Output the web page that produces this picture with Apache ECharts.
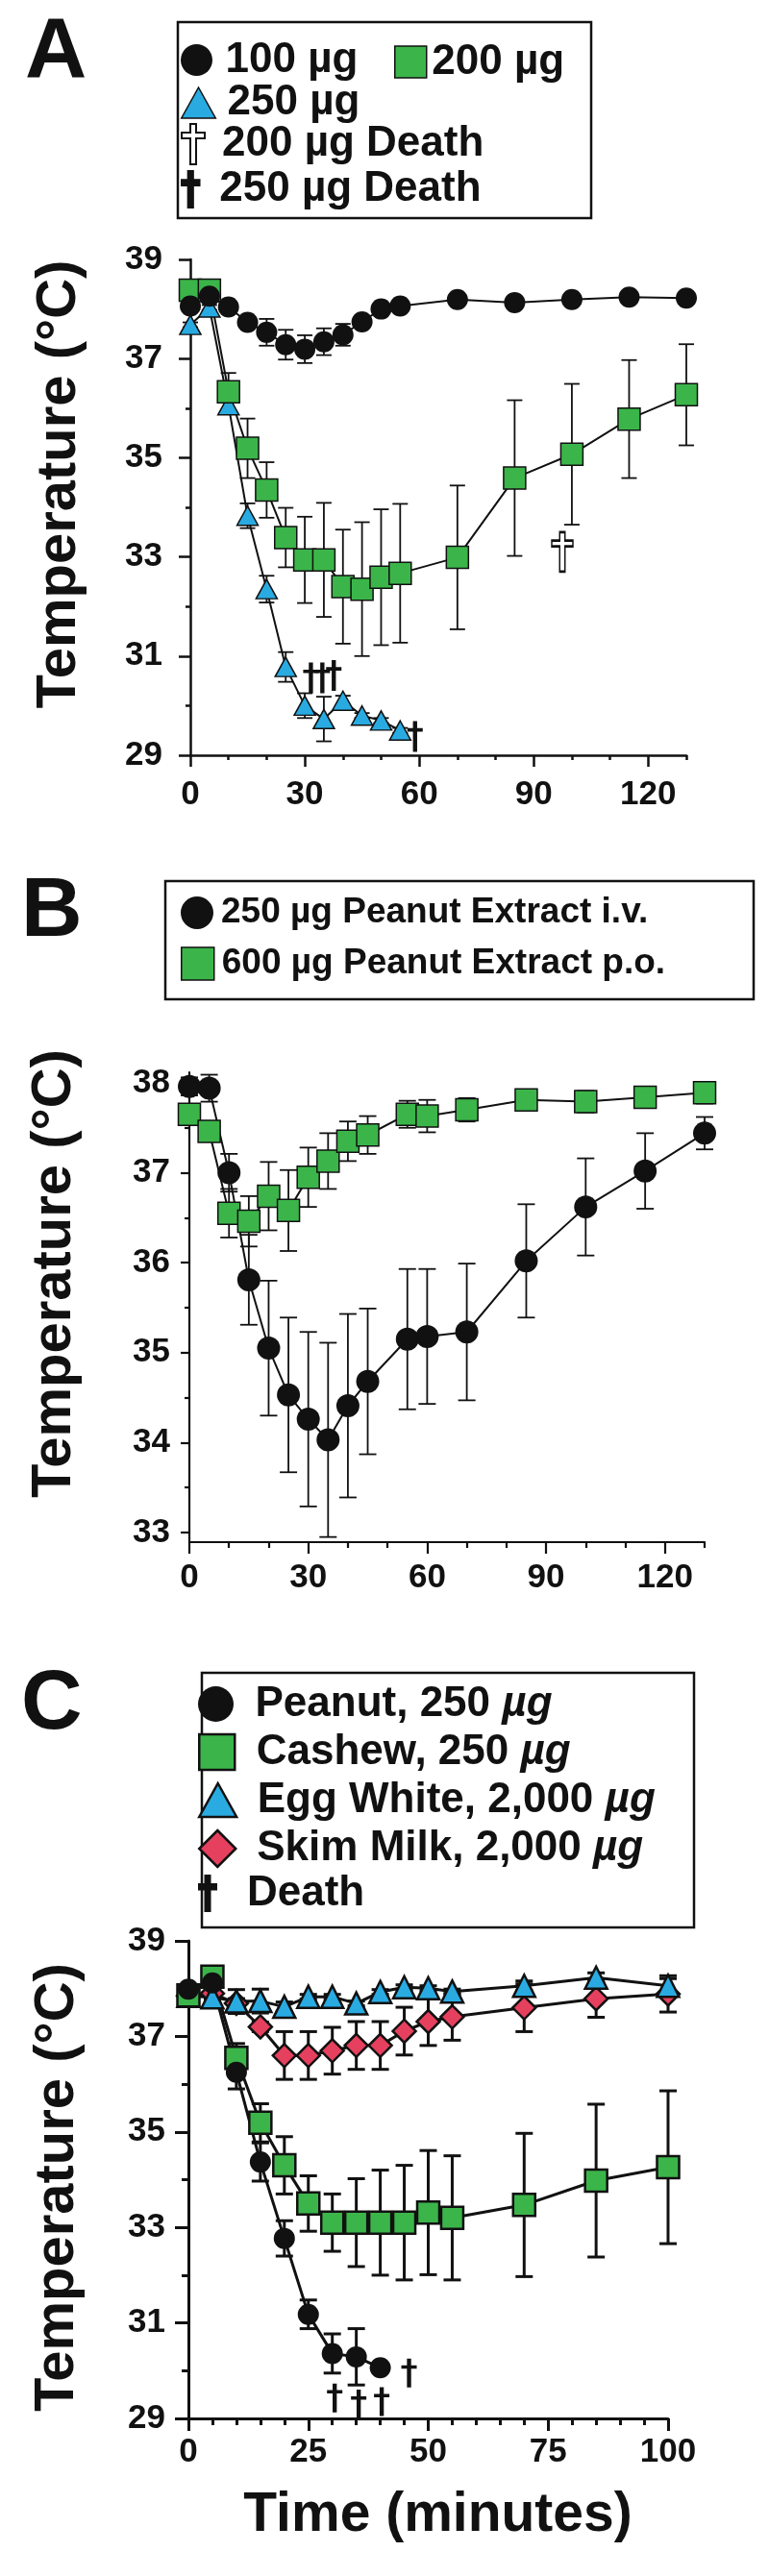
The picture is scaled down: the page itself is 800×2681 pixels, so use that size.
<!DOCTYPE html>
<html><head><meta charset="utf-8">
<script src="https://cdn.jsdelivr.net/npm/echarts@6/dist/echarts.min.js"></script>
<style>html,body{margin:0;padding:0;background:#fff}#c{width:800px;height:2681px}</style>
</head><body><div id="c"></div>
<script>
// ---------- Panel A ----------
const timesA = [0,5,10,15,20,25,30,35,40,45,50,55,70,85,100,115,130];
const a100 = [38.06,38.26,38.04,37.73,37.53,37.28,37.19,37.34,37.48,37.74,38.0,38.06,38.19,38.13,38.19,38.24,38.22];
const a100Err = [0.05,0.05,0.05,0.1,0.27,0.3,0.28,0.27,0.22,0.1,0.05,0.05,0.05,0.05,0.05,0.05,0.05];
const a200 = [38.38,38.38,36.33,35.19,34.35,33.39,32.94,32.94,32.40,32.35,32.59,32.67,32.99,34.59,35.07,35.78,36.27];
const a200Err = [0.05,0.05,0.38,0.6,0.56,0.6,0.87,1.15,1.15,1.35,1.37,1.4,1.45,1.57,1.42,1.19,1.02];
const timesA250 = [0,5,10,15,20,25,30,35,40,45,50,55];
const a250 = [37.68,38.03,36.06,33.83,32.35,30.78,30.0,29.73,30.1,29.8,29.7,29.5];
const a250Err = [0.05,0.05,0.1,0.25,0.27,0.3,0.25,0.45,0.1,0.05,0.05,0.05];
const a200Death = [[97.5,33.1]];
const a250Death = [[31.6,30.56],[34.6,30.56],[37.6,30.61],[58.9,29.38]];
const ticksAx = [0,30,60,90,120];
const minorAx = [10,20,40,50,70,80,100,110,130];

// ---------- Panel B ----------
const timesB = [0,5,10,15,20,25,30,35,40,45,55,60,70,85,100,115,130];
const b250 = [37.96,37.94,37.0,35.81,35.05,34.53,34.26,34.03,34.41,34.68,35.15,35.18,35.23,36.02,36.62,37.02,37.44];
const b250Err = [0.1,0.15,0.21,0.5,0.75,0.86,0.97,1.08,1.02,0.81,0.78,0.75,0.76,0.63,0.54,0.42,0.18];
const b600 = [37.65,37.46,36.55,36.46,36.74,36.58,36.95,37.13,37.35,37.42,37.65,37.63,37.70,37.81,37.79,37.84,37.89];
const b600Err = [0.05,0.1,0.27,0.28,0.38,0.45,0.33,0.31,0.22,0.21,0.15,0.18,0.13,0.08,0.12,0.07,0.12];
const ticksBx = [0,30,60,90,120];
const minorBx = [10,20,40,50,70,80,100,110,130];
const ticksBy = [33,34,35,36,37,38];
const minorBy = [33.5,34.5,35.5,36.5,37.5];

// ---------- Panel C ----------
const timesC = [0,5,10,15,20,25,30,35,40,45,50,55,70,85,100];
const timesCPeanut = [0,5,10,15,20,25,30,35,40];
const cPeanut = [37.99,38.12,36.25,34.37,32.77,31.18,30.36,30.29,30.06];
const cPeanutErr = [0.05,0.05,0.35,0.4,0.37,0.3,0.41,0.59,0];
const cCashew = [37.86,38.25,36.55,35.19,34.30,33.50,33.10,33.10,33.10,33.10,33.31,33.20,33.47,33.98,34.26];
const cCashewErr = [0.05,0.05,0.3,0.4,0.6,0.58,0.6,0.92,1.1,1.2,1.3,1.3,1.5,1.6,1.6];
const cEgg = [37.85,37.82,37.73,37.74,37.62,37.83,37.83,37.69,37.93,38.03,38.01,37.94,38.06,38.23,38.06];
const cEggErr = [0,0.05,0.25,0.25,0.1,0.05,0.05,0.05,0.05,0.05,0.05,0.05,0.1,0.1,0.15];
const cMilk = [37.85,37.9,37.69,37.2,36.6,36.6,36.7,36.81,36.81,37.11,37.31,37.41,37.6,37.79,37.89];
const cMilkErr = [0,0,0.1,0.1,0.5,0.5,0.49,0.5,0.5,0.5,0.5,0.49,0.5,0.39,0.38];
const cDeath = [[46,29.95],[30.5,29.43],[35.5,29.3],[40.3,29.35]];

// ---------- styling ----------
const FONT = '"Liberation Sans", Arial, Helvetica, sans-serif';
const K = '#111', G = '#3BB54A', BL = '#29ABE2', RD = '#E5405E';
const SQ = 'path://M0,0H10V10H0Z';
const TRI = 'path://M5,0L10,9L0,9Z';
const DIA = 'path://M5,0L10,5L5,10L0,5Z';
const DAG = 'path://M4,0H7V6H11V9H7V26H4V9H0V6H4Z';
const DAG_BIG = 'path://M6.5,0H13.5V9H20V16.5H13.5V39H6.5V16.5H0V9H6.5Z';
const DAG_OPEN = 'path://M6,0H10V6H16V10H10V28H6V10H0V6H6Z';

function pairs(t, v) { return t.map((x, i) => [x, v[i]]); }

function errSeries(times, means, errs, xi, yi, lw, half) {
  return {
    type: 'custom', xAxisIndex: xi, yAxisIndex: yi, silent: true, z: 2,
    data: times.map((t, i) => [t, means[i], errs[i]]),
    encode: { x: 0, y: 1 },
    renderItem: function (params, api) {
      const x = api.value(0), m = api.value(1), e = api.value(2);
      if (!e) return null;
      const tp = api.coord([x, m + e]), bt = api.coord([x, m - e]);
      const st = { stroke: K, lineWidth: lw, fill: null };
      return { type: 'group', children: [
        { type: 'line', shape: { x1: tp[0], y1: tp[1], x2: bt[0], y2: bt[1] }, style: st },
        { type: 'line', shape: { x1: tp[0] - half, y1: tp[1], x2: tp[0] + half, y2: tp[1] }, style: st },
        { type: 'line', shape: { x1: bt[0] - half, y1: bt[1], x2: bt[0] + half, y2: bt[1] }, style: st }
      ]};
    }
  };
}
function lineSeries(name, times, vals, xi, yi, symbol, size, color, bw, lw) {
  return {
    type: 'line', name: name, xAxisIndex: xi, yAxisIndex: yi, data: pairs(times, vals),
    symbol: symbol, symbolSize: size, showAllSymbol: true, silent: true, z: 3,
    itemStyle: { color: color, borderColor: K, borderWidth: bw, opacity: 1 },
    lineStyle: { color: K, width: lw }
  };
}
function daggerSeries(name, pts, xi, yi, sym, size, fill, bw) {
  return {
    type: 'scatter', name: name, xAxisIndex: xi, yAxisIndex: yi, data: pts,
    symbol: sym, symbolSize: size, silent: true, z: 4,
    itemStyle: { color: fill, borderColor: K, borderWidth: bw, opacity: 1 }
  };
}
function legendRow(name, icon, itemStyle, left, centerY, iw, ih, fs, italicUnit) {
  const ts = { fontSize: fs, fontWeight: 'bold', color: K, fontFamily: FONT };
  const lg = {
    data: [{ name: name, icon: icon, itemStyle: itemStyle }],
    left: left, top: centerY - ih / 2, itemWidth: iw, itemHeight: ih, padding: 0,
    selectedMode: false, textStyle: ts
  };
  if (italicUnit) {
    lg.formatter = function (n) { return n.indexOf('µg') >= 0 ? n.replace('µg', '{i|µg}') : n; };
    ts.rich = { i: { fontSize: fs, fontWeight: 'bold', fontStyle: 'italic', color: K, fontFamily: FONT } };
  }
  return lg;
}

const tickLbl = { fontSize: 35, fontWeight: 'bold', color: K, fontFamily: FONT };
const titleName = { fontSize: 58, fontWeight: 'bold', color: K, fontFamily: FONT };
function ls(w) { return { color: K, width: w }; }
const blackIcon = { color: K, borderWidth: 0 };

const option = {
  animation: false,
  backgroundColor: '#fff',
  textStyle: { fontFamily: FONT },
  title: [
    { text: 'A', left: 26, top: 12, padding: 0, textStyle: { fontSize: 89, fontWeight: 'bold', color: K, fontFamily: FONT } },
    { text: 'B', left: 22, top: 906, padding: 0, textStyle: { fontSize: 88, fontWeight: 'bold', color: K, fontFamily: FONT } },
    { text: 'C', left: 22, top: 1731, padding: 0, textStyle: { fontSize: 88, fontWeight: 'bold', color: K, fontFamily: FONT } }
  ],
  grid: [
    { left: 198, top: 270, width: 516, height: 516, containLabel: false, outerBoundsMode: 'none' },
    { left: 197, top: 1116, width: 536, height: 489, containLabel: false, outerBoundsMode: 'none' },
    { left: 196, top: 2020, width: 499, height: 497, containLabel: false, outerBoundsMode: 'none' }
  ],
  xAxis: [
    { gridIndex: 0, type: 'value', min: 0, max: 130, position: 'bottom',
      axisLine: { show: true, onZero: false, lineStyle: ls(2.5) },
      axisTick: { show: true, customValues: ticksAx, length: 12, lineStyle: ls(2.5) },
      axisLabel: Object.assign({ show: true, customValues: ticksAx, margin: 24 }, tickLbl),
      splitLine: { show: false } },
    { gridIndex: 0, type: 'value', min: 0, max: 130, position: 'bottom',
      axisLine: { show: false }, axisTick: { show: true, customValues: minorAx, length: 5, lineStyle: ls(2.5) },
      axisLabel: { show: false }, splitLine: { show: false } },
    { gridIndex: 1, type: 'value', min: 0, max: 130, position: 'bottom',
      axisLine: { show: true, onZero: false, lineStyle: ls(2.2) },
      axisTick: { show: true, customValues: ticksBx, length: 12, lineStyle: ls(2.2) },
      axisLabel: Object.assign({ show: true, customValues: ticksBx, margin: 20 }, tickLbl),
      splitLine: { show: false } },
    { gridIndex: 1, type: 'value', min: 0, max: 130, position: 'bottom',
      axisLine: { show: false }, axisTick: { show: true, customValues: minorBx, length: 6, lineStyle: ls(2.2) },
      axisLabel: { show: false }, splitLine: { show: false } },
    { gridIndex: 2, type: 'value', min: 0, max: 100, interval: 25, position: 'bottom',
      axisLine: { show: true, onZero: false, lineStyle: ls(3) },
      axisTick: { show: true, length: 13, lineStyle: ls(3) },
      minorTick: { show: true, splitNumber: 5, length: 7, lineStyle: ls(3) },
      axisLabel: Object.assign({ show: true, margin: 18 }, tickLbl),
      splitLine: { show: false }, minorSplitLine: { show: false },
      name: 'Time (minutes)', nameLocation: 'middle', nameGap: 73,
      nameTextStyle: { fontSize: 57, fontWeight: 'bold', color: K, fontFamily: FONT, padding: [0, 0, 0, 20] } }
  ],
  yAxis: [
    { gridIndex: 0, type: 'value', min: 29, max: 39, interval: 2, position: 'left',
      axisLine: { show: true, onZero: false, lineStyle: ls(2.5) },
      axisTick: { show: true, length: 12, lineStyle: ls(2.5) },
      minorTick: { show: true, splitNumber: 2, length: 5, lineStyle: ls(2.5) },
      axisLabel: Object.assign({ show: true, margin: 29 }, tickLbl),
      splitLine: { show: false }, minorSplitLine: { show: false },
      name: 'Temperature (°C)', nameLocation: 'middle', nameGap: 107,
      nameTextStyle: Object.assign({ padding: [0, 0, 0, 48] }, titleName) },
    { gridIndex: 1, type: 'value', min: 32.893, max: 38.117, position: 'left',
      axisLine: { show: true, onZero: false, lineStyle: ls(2.2) },
      axisTick: { show: true, customValues: ticksBy, length: 9, lineStyle: ls(2.2) },
      axisLabel: Object.assign({ show: true, customValues: ticksBy, margin: 20 }, tickLbl),
      splitLine: { show: false },
      name: 'Temperature (°C)', nameLocation: 'middle', nameGap: 111,
      nameTextStyle: Object.assign({ padding: [0, 0, 0, 70] }, titleName) },
    { gridIndex: 1, type: 'value', min: 32.893, max: 38.117, position: 'left',
      axisLine: { show: false }, axisTick: { show: true, customValues: minorBy, length: 5, lineStyle: ls(2.2) },
      axisLabel: { show: false }, splitLine: { show: false } },
    { gridIndex: 2, type: 'value', min: 29, max: 39, interval: 2, position: 'left',
      axisLine: { show: true, onZero: false, lineStyle: ls(3) },
      axisTick: { show: true, length: 14, lineStyle: ls(3) },
      minorTick: { show: true, splitNumber: 2, length: 7, lineStyle: ls(3) },
      axisLabel: Object.assign({ show: true, margin: 24 }, tickLbl),
      splitLine: { show: false }, minorSplitLine: { show: false },
      name: 'Temperature (°C)', nameLocation: 'middle', nameGap: 107,
      nameTextStyle: Object.assign({ padding: [0, 16, 0, 0] }, titleName) }
  ],
  legend: [
    legendRow('100 µg', 'circle', blackIcon, 188, 57, 50, 33, 44),
    legendRow('200 µg', SQ, { color: G, borderColor: K, borderWidth: 1.5 }, 410, 59, 34, 33, 44),
    legendRow('250 µg', TRI, { color: BL, borderColor: K, borderWidth: 1.5 }, 188, 101, 50, 32, 44),
    legendRow('200 µg Death', DAG_OPEN, { color: '#fff', borderColor: K, borderWidth: 2 }, 188, 149, 50, 42, 44),
    legendRow('250 µg Death', DAG_BIG, blackIcon, 188, 195, 50, 40, 44),
    legendRow('250 µg Peanut Extract i.v.', 'circle', blackIcon, 188, 948.5, 40, 34, 37),
    legendRow('600 µg Peanut Extract p.o.', SQ, { color: G, borderColor: K, borderWidth: 1.5 }, 188, 1001.5, 40, 34, 37),
    legendRow('Peanut, 250 µg', 'circle', blackIcon, 206, 1770, 72, 37, 44, true),
    legendRow('Cashew, 250 µg', SQ, { color: G, borderColor: K, borderWidth: 2.5 }, 206, 1820, 72, 37, 44, true),
    legendRow('Egg White, 2,000 µg', TRI, { color: BL, borderColor: K, borderWidth: 2.5 }, 206, 1869, 72, 35, 44, true),
    legendRow('Skim Milk, 2,000 µg', DIA, { color: RD, borderColor: K, borderWidth: 2.5 }, 206, 1921, 72, 38, 44, true),
    legendRow('Death', DAG_BIG, blackIcon, 206, 1968, 72, 39, 44)
  ],
  graphic: [
    { type: 'rect', shape: { x: 185, y: 23, width: 430, height: 204 }, style: { fill: null, stroke: K, lineWidth: 2.5 }, silent: true },
    { type: 'rect', shape: { x: 172, y: 917, width: 612, height: 123 }, style: { fill: null, stroke: K, lineWidth: 2.5 }, silent: true },
    { type: 'rect', shape: { x: 210, y: 1741, width: 512, height: 265 }, style: { fill: null, stroke: K, lineWidth: 2.5 }, silent: true }
  ],
  series: [
    // A
    errSeries(timesA250, a250, a250Err, 0, 0, 1.8, 8),
    errSeries(timesA, a200, a200Err, 0, 0, 1.8, 8),
    errSeries(timesA, a100, a100Err, 0, 0, 1.8, 8),
    lineSeries('250 µg', timesA250, a250, 0, 0, 'triangle', [22, 20], BL, 1.5, 2),
    lineSeries('200 µg', timesA, a200, 0, 0, 'rect', 23, G, 1.5, 2),
    lineSeries('100 µg', timesA, a100, 0, 0, 'circle', 22, K, 0, 2),
    daggerSeries('200 µg Death', a200Death, 0, 0, DAG_OPEN, [22, 41], '#fff', 2),
    daggerSeries('250 µg Death', a250Death, 0, 0, DAG, [16, 32], K, 0),
    // B
    errSeries(timesB, b600, b600Err, 2, 1, 1.8, 9),
    errSeries(timesB, b250, b250Err, 2, 1, 1.8, 9),
    lineSeries('600 µg Peanut Extract p.o.', timesB, b600, 2, 1, 'rect', 23, G, 1.5, 2),
    lineSeries('250 µg Peanut Extract i.v.', timesB, b250, 2, 1, 'circle', 24, K, 0, 2),
    // C
    errSeries(timesC, cMilk, cMilkErr, 4, 3, 3, 9),
    errSeries(timesC, cEgg, cEggErr, 4, 3, 3, 9),
    errSeries(timesC, cCashew, cCashewErr, 4, 3, 3, 9),
    errSeries(timesCPeanut, cPeanut, cPeanutErr, 4, 3, 3, 9),
    lineSeries('Skim Milk, 2,000 µg', timesC, cMilk, 4, 3, 'diamond', 24, RD, 2.5, 3),
    lineSeries('Egg White, 2,000 µg', timesC, cEgg, 4, 3, 'triangle', 23, BL, 2.5, 3),
    lineSeries('Cashew, 250 µg', timesC, cCashew, 4, 3, 'rect', 23, G, 2.5, 3),
    lineSeries('Peanut, 250 µg', timesCPeanut, cPeanut, 4, 3, 'circle', 22, K, 0, 3),
    daggerSeries('Death', cDeath, 4, 3, DAG, [16, 30], K, 0)
  ]
};
const chart = echarts.init(document.getElementById('c'), null, { renderer: 'canvas', width: 800, height: 2681 });
chart.setOption(option);
</script>
</body></html>
